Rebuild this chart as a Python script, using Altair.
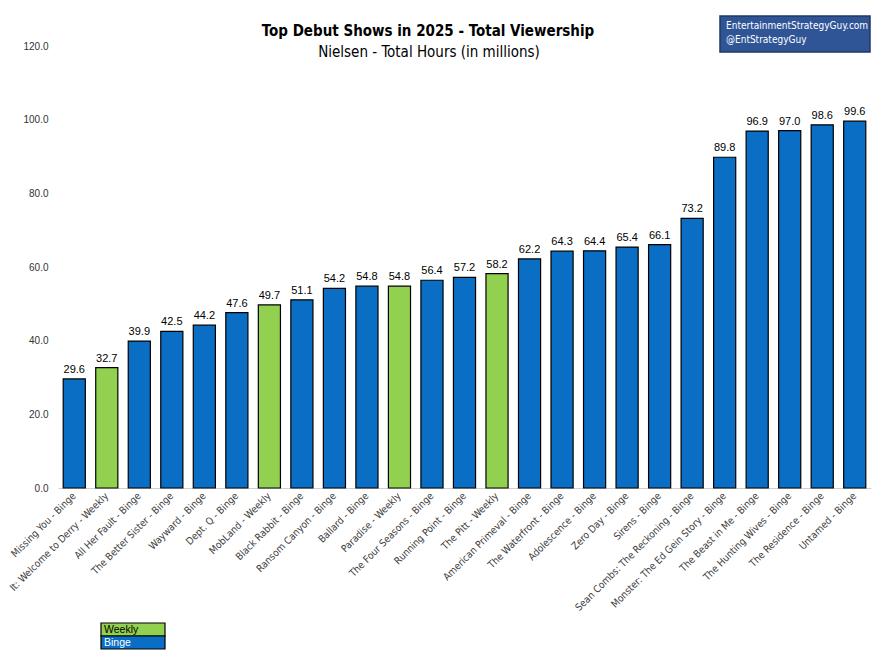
import altair as alt
import pandas as pd

shows = ["Missing You - Binge", "It: Welcome to Derry - Weekly", "All Her Fault - Binge",
         "The Better Sister - Binge", "Wayward - Binge", "Dept. Q - Binge", "MobLand - Weekly",
         "Black Rabbit - Binge", "Ransom Canyon - Binge", "Ballard - Binge", "Paradise - Weekly",
         "The Four Seasons - Binge", "Running Point - Binge", "The Pitt - Weekly",
         "American Primeval - Binge", "The Waterfront - Binge", "Adolescence - Binge",
         "Zero Day - Binge", "Sirens - Binge", "Sean Combs: The Reckoning - Binge",
         "Monster: The Ed Gein Story - Binge", "The Beast in Me - Binge",
         "The Hunting Wives - Binge", "The Residence - Binge", "Untamed - Binge"]
hours = [29.6, 32.7, 39.9, 42.5, 44.2, 47.6, 49.7, 51.1, 54.2, 54.8, 54.8, 56.4, 57.2, 58.2,
         62.2, 64.3, 64.4, 65.4, 66.1, 73.2, 89.8, 96.9, 97.0, 98.6, 99.6]
release = ["Weekly" if s.endswith("Weekly") else "Binge" for s in shows]
y_ticks = [0, 20, 40, 60, 80, 100, 120]
legend_items = ["Weekly", "Binge"]
watermark_lines = ["EntertainmentStrategyGuy.com", "@EntStrategyGuy"]
title_text = "Top Debut Shows in 2025 - Total Viewership"
subtitle_text = "Nielsen - Total Hours (in millions)"

df = pd.DataFrame({"show": shows, "hours": hours, "release": release})

FONT = "Liberation Sans Narrow, DejaVu Sans Condensed, Roboto"
BLUE = "#0a6ec4"
GREEN = "#92d050"
color_scale = alt.Scale(domain=legend_items, range=[GREEN, BLUE])
one = pd.DataFrame({"k": [0]})

x = alt.X("show:N", sort=shows, title=None,
          scale=alt.Scale(paddingInner=0.32, paddingOuter=0.16),
          axis=alt.Axis(labelAngle=-45, labelAlign="right", labelBaseline="middle",
                        labelFontSize=10, labelColor="#404040", labelFont=FONT,
                        ticks=False, domain=True, domainColor="#d0d0d0", labelPadding=6,
                        labelLimit=300))
y = alt.Y("hours:Q", title=None,
          scale=alt.Scale(domain=[0, 120], nice=False),
          axis=alt.Axis(values=y_ticks, format=".1f", grid=False, ticks=False, domain=False,
                        labelFontSize=10, labelColor="#333333", labelFont="Liberation Sans, Arial",
                        labelPadding=10))

bars = alt.Chart(df).mark_bar(stroke="black", strokeWidth=1.2).encode(
    x=x, y=y,
    color=alt.Color("release:N", scale=color_scale, legend=None),
)
labels = alt.Chart(df).mark_text(dy=-9, fontSize=11, font="Liberation Sans, Arial", color="black").encode(
    x=alt.X("show:N", sort=shows), y="hours:Q", text=alt.Text("hours:Q", format=".1f"))

# titles
title_mark = alt.Chart(one).mark_text(
    text=title_text, font=FONT, fontSize=15, fontWeight="bold", color="black",
    align="center", baseline="alphabetic").encode(x=alt.value(370), y=alt.value(-10))
subtitle_mark = alt.Chart(one).mark_text(
    text=subtitle_text, font=FONT, fontSize=15, color="black",
    align="center", baseline="alphabetic").encode(x=alt.value(371), y=alt.value(11))

# watermark box
wm_box = alt.Chart(one).mark_rect(
    fill="#2f5597", stroke="#1f3864", strokeWidth=1.5).encode(
    x=alt.value(662), x2=alt.value(812), y=alt.value(-30), y2=alt.value(6))
wm_1 = alt.Chart(one).mark_text(text=watermark_lines[0], align="left", baseline="middle",
                                 color="white", fontSize=10, font=FONT).encode(
    x=alt.value(668), y=alt.value(-20))
wm_2 = alt.Chart(one).mark_text(text=watermark_lines[1], align="left", baseline="middle",
                                 color="white", fontSize=10, font=FONT).encode(
    x=alt.value(668), y=alt.value(-6))

# custom legend
def legend_row(item, top, text_color):
    d = pd.DataFrame({"item": [item]})
    box = alt.Chart(d).mark_rect(stroke="black", strokeWidth=1.2).encode(
        x=alt.value(43), x2=alt.value(107), y=alt.value(top), y2=alt.value(top + 13),
        color=alt.Color("item:N", scale=color_scale, legend=None))
    txt = alt.Chart(d).mark_text(align="left", baseline="middle", fontSize=10.5,
                                 font="Liberation Sans, Arial", color=text_color).encode(
        x=alt.value(46), y=alt.value(top + 7), text="item:N")
    return box + txt

leg_weekly = legend_row(legend_items[0], 577, "black")
leg_binge = legend_row(legend_items[1], 590, "white")

chart = alt.layer(bars, labels, title_mark, subtitle_mark, wm_box, wm_1, wm_2,
                  leg_weekly, leg_binge).properties(
    width=813, height=442,
    autosize=alt.AutoSizeParams(type="none"),
    padding={"left": 50, "top": 38, "right": 14, "bottom": 172},
).configure_view(stroke=None)

chart.save("out.html", embed_options={"renderer": "svg", "actions": False})
